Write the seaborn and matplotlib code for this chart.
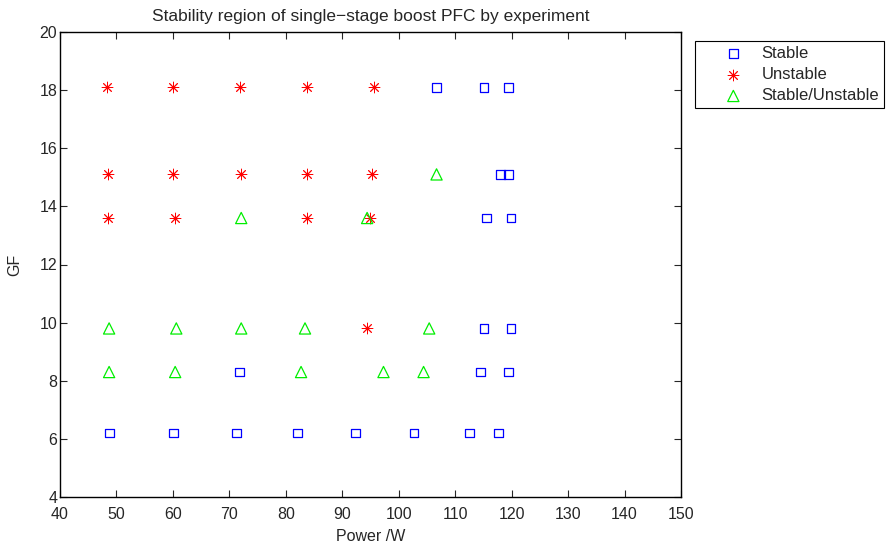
import matplotlib
matplotlib.use("Agg")
import matplotlib.pyplot as plt
import seaborn as sns
import pandas as pd

# values (Power /W, GF)
stable_p = [106.7, 115.1, 119.4, 118.0, 119.4, 115.5, 119.9, 115.1, 119.9,
            71.8, 114.5, 119.4, 48.7, 60.1, 71.2, 82.0, 92.4, 102.7, 112.5, 117.7]
stable_gf = [18.1, 18.1, 18.1, 15.1, 15.1, 13.6, 13.6, 9.8, 9.8,
             8.3, 8.3, 8.3, 6.2, 6.2, 6.2, 6.2, 6.2, 6.2, 6.2, 6.2]

unstable_p = [48.3, 60.1, 71.8, 83.7, 95.6, 48.5, 60.1, 72.1, 83.7, 95.3,
              48.5, 60.4, 83.7, 94.9, 94.4]
unstable_gf = [18.1, 18.1, 18.1, 18.1, 18.1, 15.1, 15.1, 15.1, 15.1, 15.1,
               13.6, 13.6, 13.6, 13.6, 9.8]

mixed_p = [106.7, 72.1, 94.4, 48.7, 60.6, 72.1, 83.4, 105.4,
           48.7, 60.4, 82.7, 97.3, 104.4]
mixed_gf = [15.1, 13.6, 13.6, 9.8, 9.8, 9.8, 9.8, 9.8,
            8.3, 8.3, 8.3, 8.3, 8.3]

x_ticks = list(range(40, 151, 10))
y_ticks = list(range(4, 21, 2))

sns.set_style("ticks")
plt.rcParams["font.family"] = ["Liberation Sans", "DejaVu Sans"]
plt.rcParams["font.size"] = 11.5
plt.rcParams["xtick.direction"] = "in"
plt.rcParams["ytick.direction"] = "in"

# name, x, y, marker, colour, size, hollow, line width
groups = [
    ("Stable", stable_p, stable_gf, "s", "blue", 40, True, 0.9),
    ("Unstable", unstable_p, unstable_gf, (8, 2, 0), "red", 60, False, 0.65),
    ("Stable/Unstable", mixed_p, mixed_gf, "^", "#00ee00", 65, True, 0.9),
]

fig = plt.figure(figsize=(8.86, 5.44), dpi=100)
ax = fig.add_axes([60 / 886, 1 - 497 / 544, 621 / 886, 465 / 544])

for name, px, gf, mk, col, size, hollow, lw in groups:
    df = pd.DataFrame({"Power": px, "GF": gf})
    sns.scatterplot(data=df, x="Power", y="GF", marker=mk, s=size, color=col,
                    linewidth=lw, label=name, ax=ax, legend=False)
    coll = ax.collections[-1]
    if hollow:
        coll.set_facecolor("none")
    coll.set_edgecolor(col)
    coll.set_label(name)

ax.set_xlim(40, 150)
ax.set_ylim(4, 20)
ax.set_xticks(x_ticks)
ax.set_yticks(y_ticks)
ax.tick_params(top=True, right=True, length=5, width=0.8, labelsize=11.5)
ax.tick_params(axis="x", pad=7)
ax.tick_params(axis="y", pad=2)
for sp in ax.spines.values():
    sp.set_visible(True)
    sp.set_linewidth(1.0)
    sp.set_color("black")

ax.set_xlabel("Power /W", labelpad=5, fontsize=11.5)
ax.set_ylabel("GF", labelpad=12, fontsize=11.5)
ax.set_title("Stability region of single\u2212stage boost PFC by experiment",
             pad=8, fontsize=12.5)

leg = ax.legend(loc="upper left", bbox_to_anchor=(695 / 886, 1 - 41 / 544),
                bbox_transform=fig.transFigure, frameon=True, fancybox=False,
                edgecolor="black", framealpha=1, borderaxespad=0,
                handletextpad=-0.3, labelspacing=0.37, borderpad=0.3,
                handlelength=4.0, fontsize=12)
leg.get_frame().set_linewidth(0.8)

fig.savefig("out.png", dpi=100)
